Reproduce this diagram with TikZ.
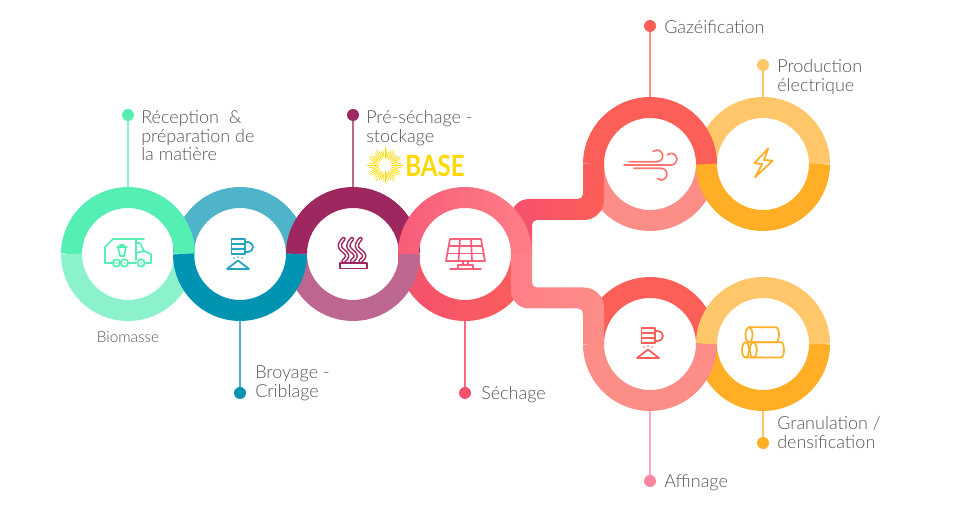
\documentclass[tikz,border=0pt]{standalone}
\usepackage{fontspec}
\usetikzlibrary{calc}
\setmainfont{Lato}[UprightFont=* Light]
\newfontfamily\basefont[FakeStretch=0.82]{Lato}[UprightFont=* Bold]
\definecolor{greenA}{HTML}{55EFB4}
\definecolor{greenB}{HTML}{8CF2CB}
\definecolor{blueA}{HTML}{0093B2}
\definecolor{blueB}{HTML}{4FB3C9}
\definecolor{plumA}{HTML}{9E2760}
\definecolor{plumB}{HTML}{BC6690}
\definecolor{roseA}{HTML}{F4506F}
\definecolor{roseB}{HTML}{FF7F87}
\definecolor{roseC}{HTML}{F75C79}
\definecolor{redA}{HTML}{FC5F57}
\definecolor{redB}{HTML}{FD8D87}
\definecolor{amberA}{HTML}{FFAE26}
\definecolor{amberB}{HTML}{FFC66A}
\definecolor{pinkA}{HTML}{FF85A0}
\definecolor{sunA}{HTML}{FFD800}
\definecolor{labelgrey}{HTML}{555555}
\tikzset{
	x=0.75pt, y=0.75pt,
	ringnode/.style={circle, minimum size=100.5pt, inner sep=0pt},
	ringline/.style={line width=15.75pt},
	dotnode/.style={circle, minimum size=9pt, inner sep=0pt},
	leader/.style={line width=1.1pt},
	steptext/.style={anchor=north west, inner sep=0pt, align=left, text=labelgrey,
		font=\fontsize{13.5}{14.1}\selectfont},
	iconline/.style={line width=1.3pt, line join=round, line cap=round},
}
\newcommand{\topring}[2]{\draw[ringline, #2] (#1.center) ++(-56.5,0) arc (180:0:56.5);}
\newcommand{\lowring}[2]{\draw[ringline, #2] (#1.center) ++(-56.5,0) arc (180:360:56.5);}
\newcommand{\millicon}[2]{
	\begin{scope}[shift={(#1)}, iconline, draw=#2]
		\draw (-8.5,15) rectangle (5,0);
		\draw (-8.5,10) -- (5,10);
		\draw (-8.5,5) -- (5,5);
		\draw (5,12) -- (8,12) arc (90:-90:5) -- (5,2);
		\draw (-13,-15) -- (-2,-6.5) -- (9,-15) -- cycle;
		\fill[#2] (-6,-4) circle (0.9);
		\fill[#2] (-2,-3) circle (0.9);
		\fill[#2] (2,-4) circle (0.9);
	\end{scope}
}
\begin{document}
\begin{tikzpicture}
	\useasboundingbox (0,0) rectangle (960,506);

	\node (RingA) at (128,252) [ringnode] {};
	\node (RingB) at (240,252) [ringnode] {};
	\node (RingC) at (353,252) [ringnode] {};
	\node (RingD) at (465,252) [ringnode] {};
	\node (RingE) at (650,342) [ringnode] {};
	\node (RingF) at (763,342) [ringnode] {};
	\node (RingG) at (650,162) [ringnode] {};
	\node (RingH) at (763,162) [ringnode] {};

	\node (DotA) at (128,391) [dotnode, fill=greenA] {};
	\node (DotB) at (240,113) [dotnode, fill=blueA] {};
	\node (DotC) at (353,391) [dotnode, fill=plumA] {};
	\node (DotD) at (465,113) [dotnode, fill=roseA] {};
	\node (DotE) at (650,480) [dotnode, fill=redA] {};
	\node (DotF) at (763,441) [dotnode, fill=amberB] {};
	\node (DotG) at (650,25) [dotnode, fill=pinkA] {};
	\node (DotH) at (763,63) [dotnode, fill=amberA] {};

	\draw[leader, greenB] (DotA) -- (RingA);
	\draw[leader, blueB] (DotB) -- (RingB);
	\draw[leader, plumB] (DotC) -- (RingC);
	\draw[leader, roseA!85!white] (DotD) -- (RingD);
	\draw[leader, redB] (DotE) -- (RingE);
	\draw[leader, amberB] (DotF) -- (RingF);
	\draw[leader, pinkA!70!white] (DotG) -- (RingG);
	\draw[leader, amberB] (DotH) -- (RingH);

	% Half rings, in stacking order
	\topring{RingB}{blueB}
	\topring{RingA}{greenA}
	\topring{RingC}{plumA}
	\shade[left color=roseA, right color=redA] (RingD.center) ++(-67,0) arc (180:360:67) -- ++(-21,0) arc (360:180:46) -- cycle;
	\lowring{RingC}{plumB}
	\lowring{RingA}{greenB}
	\lowring{RingB}{blueA}

	\topring{RingF}{amberB}
	\lowring{RingE}{redB}
	\lowring{RingF}{amberA}
	\shade[left color=roseA, right color=redA] (511,252) -- (511,289) arc (180:90:18) -- (578,307) arc (-90:0:5) -- (583,342) -- (604,342) -- (604,306) arc (0:-90:20) -- (537,286) arc (90:180:5) -- (532,252) -- cycle;
	\topring{RingE}{redA}
	\shade[left color=roseC, right color=roseB] (RingD.center) ++(-67,0) arc (180:0:67) -- ++(-21,0) arc (0:180:46) -- cycle;

	\lowring{RingH}{amberA}
	\topring{RingG}{redA}
	\topring{RingH}{amberB}
	\shade[left color=roseB, right color=redB] (511,252) -- (511,215.5) arc (180:270:18) -- (578,197.5) arc (90:0:5) -- (583,162) -- (604,162) -- (604,198.5) arc (0:90:20) -- (537,218.5) arc (270:180:5) -- (532,252) -- cycle;
	\lowring{RingG}{redB}

	\begin{scope}[shift={(RingA)}, iconline, draw=greenA]
		\draw (-14,-9) -- (-23,-9) -- (-23,7) -- (-15,15) -- (16,15);
		\draw (-9,-9) -- (-8,-9);
		\draw (0,-9) -- (8,-9);
		\draw (18,-9) -- (23,-9) -- (23,0) -- (16,3);
		\draw (8,15) -- (8,-6);
		\draw (8,11) -- (12,11) -- (16,3) -- (8,1);
		\draw (-11,7) -- (-1,7);
		\draw (-10,7) -- (-8,-2) -- (-4,-2) -- (-2,7);
		\draw (-8,7) -- (-8,9) -- (-4,9) -- (-4,7);
		\draw (-11.5,-9) circle (3.7);
		\draw (-3.5,-9) circle (3.7);
		\draw (13,-9) circle (3.7);
		\fill[greenA] (-11.5,-9) circle (1);
		\fill[greenA] (-3.5,-9) circle (1);
		\fill[greenA] (13,-9) circle (1);
	\end{scope}

	\millicon{RingB}{blueA!85!white}

	\begin{scope}[shift={(RingC)}, iconline, draw=plumA]
		\draw (-13,-9) rectangle (14,-14.5);
		\foreach \wx in {-9.5,-1,7.5}{
			\draw[line width=3.4pt, plumA] (\wx,15) .. controls (\wx-5,9) and (\wx-5,7) .. (\wx,3) .. controls (\wx+5,-1) and (\wx+5,-3) .. (\wx,-7);
			\draw[line width=1.1pt, white] (\wx,15) .. controls (\wx-5,9) and (\wx-5,7) .. (\wx,3) .. controls (\wx+5,-1) and (\wx+5,-3) .. (\wx,-7);
		}
	\end{scope}

	\begin{scope}[shift={(RingD)}, iconline, draw=roseA!90!white]
		\draw (-15,15) -- (16,15) -- (20,-7) -- (-19,-7) -- cycle;
		\draw (-16.3,8) -- (17.3,8);
		\draw (-17.7,0.5) -- (18.7,0.5);
		\draw (-5,15) -- (-6.5,-7);
		\draw (6,15) -- (7,-7);
		\draw (-2,-7) -- (-2,-11);
		\draw (3,-7) -- (3,-11);
		\draw (-7,-14.7) -- (-7,-11) -- (8,-11) -- (8,-14.7);
		\draw (-15,-14.7) -- (16,-14.7);
	\end{scope}

	\begin{scope}[shift={(RingE)}, iconline, draw=redA!85!white]
		\draw (-21,2.3) -- (6.9,2.3) arc (-90:130:5.8);
		\draw (-26,-1) -- (21,-1) arc (-90:130:5.8);
		\draw (-16,-4.3) -- (11,-4.3) arc (90:-130:5.85);
	\end{scope}

	\begin{scope}[shift={(RingF)}, iconline, draw=amberA]
		\draw (5.3,15.7) -- (-8.7,0.7) -- (-0.7,0) -- (-8,-13.3) -- (9.7,3.3) -- (1,4) -- cycle;
	\end{scope}

	\millicon{$(RingG)+(0,1)$}{redA}

	\begin{scope}[shift={(RingH)}, iconline, draw=amberA]
		\draw (-14,16.7) -- (13,16.7) arc (90:-90:3 and 7.5) -- (-14,1.7);
		\draw (-14,9.2) ellipse (3.5 and 7.5);
		\draw (-17,1.7) -- (18,1.7) arc (90:-90:3 and 7.6) -- (-17,-13.5);
		\draw (-17.5,-6) ellipse (3.5 and 7.6);
		\draw (-9.7,-6) ellipse (3.5 and 7.6);
	\end{scope}

	\begin{scope}[shift={(385,340.5)}, line width=0.5pt, sunA]
		\foreach \ang in {0,30,...,330}{
			\draw[sunA] (\ang:6) -- (\ang:18);
		}
		\foreach \ang in {15,45,...,345}{
			\draw[sunA] (\ang:7) -- (\ang:14);
		}
		\foreach \ang in {7.5,22.5,...,352.5}{
			\draw[sunA] (\ang:9) -- (\ang:16);
		}
	\end{scope}
	\node (LogoBase) at (405,340) [anchor=west, inner sep=0pt, text=sunA, font=\basefont\fontsize{22}{22}\selectfont] {BASE};

	\node (LabelA) at (141,396) [steptext] {Réception\ \ \&\\préparation de\\la matière};
	\node (LabelB) at (255,140) [steptext] {Broyage -\\Criblage};
	\node (LabelC) at (366,396) [steptext] {Pré-séchage -\\stockage};
	\node (LabelD) at (481,120) [steptext] {Séchage};
	\node (LabelE) at (664,32) [steptext] {Affinage};
	\node (LabelF) at (777,89.5) [steptext] {Granulation /\\densification};
	\node (LabelG) at (664,486) [steptext] {Gazéification};
	\node (LabelH) at (777,447) [steptext] {Production\\électrique};
	\node (LabelBio) at (128,169) [text=labelgrey, inner sep=0pt, font=\fontsize{11.5}{13}\selectfont] {Biomasse};
\end{tikzpicture}
\end{document}
